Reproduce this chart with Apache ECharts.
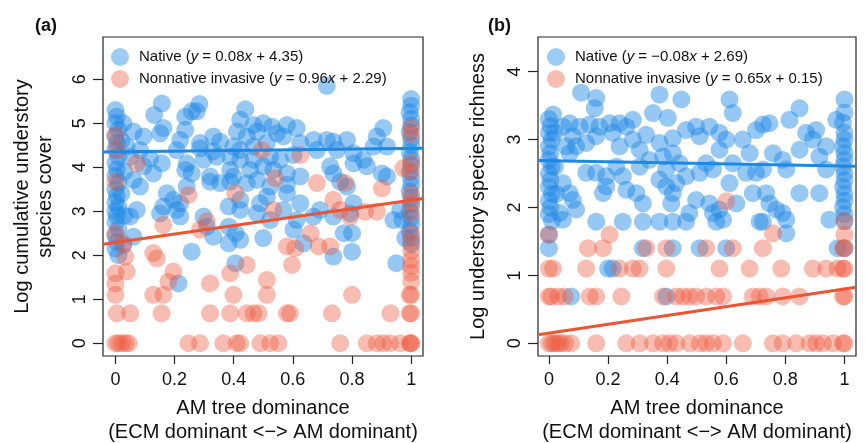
<!DOCTYPE html>
<html>
<head>
<meta charset="utf-8">
<script src="https://cdn.jsdelivr.net/npm/echarts@6/dist/echarts.min.js"></script>
<style>
html,body{margin:0;padding:0;background:#fff;}
#chart{width:866px;height:443px;}
</style>
</head>
<body>
<div id="chart"></div>
<script>
// ---------- DATA ----------
const xTicks = [0, 0.2, 0.4, 0.6, 0.8, 1];
const yTicksA = [0, 1, 2, 3, 4, 5, 6];
const yTicksB = [0, 1, 2, 3, 4];

// regression coefficients [slope, intercept]
const fitA_native = [0.08, 4.35];
const fitA_nonnative = [0.96, 2.29];
const fitB_native = [-0.08, 2.69];
const fitB_nonnative = [0.65, 0.15];

// Panel (a): log cumulative understory species cover
const aNative = [
  [0,5.3],[0.005,5.15],[0,5.0],[0.01,4.85],[0,4.7],[0.005,4.55],[0,4.4],[0.01,4.25],[0,4.1],[0.005,3.95],
  [0,3.8],[0.01,3.65],[0,3.5],[0.005,3.35],[0,3.2],[0.01,3.1],[0,3.0],[0.005,2.9],[0,2.75],[0.01,2.6],
  [0,2.45],[0.005,2.3],[0,2.15],[0.01,2.0],[0.02,4.6],[0.02,3.4],[0.03,3.9],[0.03,2.9],
  [0.027,5.0],[0.038,4.47],[0.05,4.24],[0.061,4.81],[0.095,4.7],[0.083,4.39],[0.027,2.23],[0.061,2.42],
  [0.05,2.88],[0.072,3.03],[0.061,3.71],[0.083,3.56],[0.095,4.02],[0.117,4.2],[0.128,3.86],
  [0.715,5.85],[0.284,5.44],[0.157,5.45],[0.258,5.27],[0.439,5.32],[0.131,5.19],[0.236,5.15],[0.275,5.27],
  [0.422,5.08],[0.906,4.89],[0.162,4.89],[0.151,4.77],[0.236,4.85],[0.467,4.96],[0.5,5.0],[0.529,4.92],
  [0.58,4.96],[0.613,4.89],[0.546,4.77],[0.568,4.7],[0.479,4.81],[0.411,4.81],[0.444,4.7],[0.331,4.7],
  [0.354,4.58],[0.286,4.55],[0.219,4.62],[0.67,4.62],[0.715,4.62],[0.737,4.58],[0.783,4.62],[0.884,4.7],
  [0.873,4.47],[0.918,4.47],[0.207,4.39],[0.286,4.43],[0.331,4.36],[0.399,4.47],[0.422,4.39],[0.467,4.47],
  [0.512,4.55],[0.625,4.55],[0.681,4.39],[0.749,4.39],[0.805,4.32],[0.157,4.09],[0.241,4.09],[0.298,4.17],
  [0.343,4.24],[0.388,4.24],[0.422,4.17],[0.467,4.17],[0.523,4.24],[0.557,4.17],[0.602,4.28],[0.839,4.17],
  [0.85,4.02],[0.805,4.09],[0.726,4.02],[0.737,3.86],[0.901,3.86],[0.918,3.79],[0.236,3.94],[0.258,3.86],
  [0.32,3.79],[0.388,3.94],[0.399,3.79],[0.456,3.94],[0.5,4.02],[0.534,3.94],[0.58,3.86],[0.625,3.79],
  [0.32,3.67],[0.354,3.64],[0.388,3.67],[0.444,3.64],[0.479,3.71],[0.523,3.56],[0.58,3.6],[0.76,3.67],
  [0.783,3.56],[0.241,3.56],[0.174,3.41],[0.196,3.26],[0.219,3.18],[0.162,3.11],[0.207,3.03],[0.151,2.95],
  [0.219,2.88],[0.298,2.88],[0.422,3.26],[0.383,3.11],[0.422,3.03],[0.489,3.18],[0.512,3.33],[0.58,3.41],
  [0.625,3.18],[0.568,3.03],[0.479,2.95],[0.523,2.8],[0.613,2.8],[0.67,2.88],[0.692,3.03],[0.737,2.88],
  [0.794,2.95],[0.805,3.18],[0.94,2.8],[0.963,3.03],[0.309,2.65],[0.383,2.65],[0.406,2.5],[0.331,2.42],
  [0.383,2.27],[0.422,2.35],[0.5,2.39],[0.602,2.58],[0.636,2.27],[0.772,2.5],[0.8,2.5],[0.737,1.97],
  [0.8,2.08],[0.258,2.08],[0.406,1.82],[0.213,1.36],[0.95,1.82],[0.98,2.39],[0.97,2.8],
  [1,5.55],[1,5.4],[0.995,5.25],[1,5.1],[1,4.95],[0.995,4.8],[1,4.65],[1,4.5],[0.995,4.35],[1,4.2],
  [1,4.05],[0.995,3.9],[1,3.75],[1,3.6],[0.995,3.45],[1,3.3],[1,3.15],[0.995,3.0],[1,2.85],[1,2.7],
  [0.995,2.55],[1,2.4],[1,2.25]
];
const aNonnative = [
  [0,4.73],[0.005,4.39],[0,3.67],[0,2.5],[0.027,2.27],[0.033,1.97],[0.038,1.63],[0,1.59],[0,1.36],[0,1.1],
  [0.005,0.68],[0.05,0.68],[0,0],[0.01,0],[0.022,0],[0.035,0],[0.045,0],
  [0.072,4.09],[0.162,2.69],[0.128,2.05],[0.14,1.93],[0.196,1.63],[0.179,1.4],[0.128,1.1],[0.162,1.1],
  [0.156,0.68],[0.247,3.37],[0.286,2.58],[0.309,2.77],[0.32,1.36],[0.32,0.68],[0.247,0],[0.286,0],
  [0.405,3.41],[0.388,1.59],[0.444,1.78],[0.399,1.1],[0.388,0.68],[0.444,0.68],[0.467,0.68],[0.484,0.68],
  [0.365,0],[0.41,0],[0.422,0],[0.495,4.39],[0.54,3.75],[0.534,3.03],[0.512,1.44],[0.512,1.1],
  [0.49,0],[0.523,0],[0.551,0],[0.58,0.68],[0.59,0.68],[0.58,2.2],[0.608,2.16],[0.597,1.78],
  [0.625,4.28],[0.66,2.5],[0.681,3.64],[0.687,2.2],[0.726,2.2],[0.732,0.68],[0.737,3.26],[0.76,3.03],
  [0.777,3.64],[0.794,2.88],[0.8,1.1],[0.76,0],[0.844,2.99],[0.884,2.99],[0.901,3.52],
  [0.85,0],[0.884,0],[0.906,0],[0.929,0],[0.963,0],[0.93,0.68],[0.974,3.98],
  [1,4.9],[1,4.75],[1,4.1],[1,3.9],[1,3.4],[1,3.2],[1,2.95],[1,2.5],[1,2.3],[1,2.1],[1,1.9],[1,1.75],
  [1,1.6],[1,1.4],[1,1.1],[0.995,1.1],[1,0.68],[0.995,0.68],[1,0],[0.995,0],[1,0]
];

// Panel (b): log understory species richness
const bNative = [
  [0,3.3],[0.005,3.2],[0,3.1],[0.01,3.0],[0,2.9],[0.005,2.8],[0,2.7],[0.01,2.6],[0,2.5],[0.005,2.4],
  [0,2.3],[0.01,2.2],[0,2.1],[0.005,2.0],[0,1.9],[0.01,1.8],[0,1.6],[0,1.4],[0.02,3.1],[0.02,2.6],[0.025,2.2],
  [0.014,3.37],[0.047,3.19],[0.07,3.24],[0.104,3.19],[0.081,3.05],[0.059,2.9],[0.092,2.9],[0.126,2.95],
  [0.138,3.22],[0.171,3.19],[0.16,3.05],[0.216,3.1],[0.239,3.24],[0.262,3.19],[0.284,3.29],[0.205,3.24],
  [0.329,3.07],[0.284,3.0],[0.239,2.9],[0.307,2.85],[0.374,2.95],[0.419,3.02],[0.464,3.14],[0.498,3.19],
  [0.51,3.05],[0.543,3.19],[0.577,3.1],[0.6,3.0],[0.656,3.0],[0.701,3.14],[0.724,3.22],[0.746,3.24],
  [0.87,3.1],[0.904,3.14],[0.893,3.0],[0.938,2.9],[0.848,2.85],[0.758,2.8],[0.679,2.8],[0.577,2.85],
  [0.07,2.8],[0.126,2.51],[0.16,2.51],[0.194,2.46],[0.228,2.6],[0.25,2.46],[0.307,2.6],[0.34,2.7],
  [0.386,2.75],[0.419,2.8],[0.442,2.65],[0.397,2.56],[0.374,2.41],[0.464,2.46],[0.51,2.51],[0.532,2.65],
  [0.555,2.56],[0.622,2.65],[0.611,2.36],[0.667,2.51],[0.701,2.51],[0.724,2.56],[0.791,2.7],[0.803,2.56],
  [0.938,2.56],[0.915,2.75],[0.07,2.21],[0.047,2.36],[0.081,2.11],[0.092,1.97],[0.036,1.92],[0.047,1.82],
  [0.183,2.21],[0.194,2.31],[0.262,2.26],[0.296,2.21],[0.318,2.06],[0.397,2.31],[0.431,2.36],[0.419,2.21],
  [0.498,2.11],[0.475,1.92],[0.543,2.06],[0.555,1.92],[0.577,1.97],[0.589,1.82],[0.634,2.06],[0.69,2.21],
  [0.735,2.21],[0.746,2.06],[0.769,1.97],[0.791,1.92],[0.803,1.82],[0.803,1.62],[0.848,2.21],[0.915,2.21],
  [0.949,1.82],[0.16,1.79],[0.25,1.79],[0.318,1.79],[0.374,1.79],[0.419,1.79],[0.464,1.79],[0.566,1.79],
  [0.713,1.79],[0.724,1.79],[0.414,2.06],[0.109,3.69],[0.16,3.61],[0.155,3.46],[0.374,3.66],[0.448,3.59],
  [0.352,3.39],[0.402,3.32],[0.611,3.59],[0.622,3.39],[0.848,3.46],[0.814,3.29],[0.972,3.29],
  [0.419,1.4],[0.51,1.4],[0.6,1.4],[0.318,1.4],[0.2,1.1],[0.216,1.1],[0.075,0.69],[0.397,0.69],[0.977,1.4],
  [1,3.59],[1,3.4],[0.995,3.25],[1,3.1],[1,3.0],[0.995,2.9],[1,2.8],[1,2.7],[0.995,2.6],[1,2.5],
  [1,2.4],[0.995,2.3],[1,2.2],[1,2.1],[0.995,2.0],[1,1.9],[1,1.8],[1,1.4]
];
const bNonnative = [
  [0,1.6],[0,1.1],[0.014,1.1],[0,0.69],[0.008,0.69],[0.031,0.69],[0.053,0.69],
  [0,0],[0.01,0],[0.02,0],[0.03,0],[0.04,0],[0.055,0],
  [0.205,1.6],[0.132,1.4],[0.183,1.4],[0.126,1.1],[0.239,1.1],[0.284,1.1],[0.307,1.1],[0.329,1.4],
  [0.397,1.4],[0.397,1.1],[0.532,1.4],[0.622,1.4],[0.6,2.09],[0.577,1.1],[0.679,1.1],[0.758,1.62],
  [0.724,1.4],[0.786,1.1],[0.893,1.1],[0.938,1.1],[0.977,1.1],
  [0.138,0.69],[0.16,0.69],[0.245,0.69],[0.386,0.69],[0.431,0.69],[0.453,0.69],[0.476,0.69],[0.498,0.69],
  [0.532,0.69],[0.566,0.69],[0.589,0.69],[0.69,0.69],[0.713,0.69],[0.735,0.69],[0.791,0.69],[0.848,0.69],
  [0.075,0],[0.16,0],[0.262,0],[0.307,0],[0.352,0],[0.386,0],[0.408,0],[0.431,0],[0.476,0],[0.51,0],
  [0.532,0],[0.555,0],[0.589,0],[0.656,0],[0.758,0],[0.791,0],[0.837,0],[0.882,0],[0.904,0],[0.927,0],[0.961,0],
  [1,1.8],[1,1.6],[1,1.4],[0.995,1.4],[1,1.1],[0.995,1.1],[1,0.69],[0.995,0.69],[1,0],[0.995,0]
];

// ---------- CHART ----------
const FONT = "'Liberation Sans', Arial, sans-serif";
const BLUE_PT = 'rgba(30,136,229,0.58)';
const RED_PT = 'rgba(238,90,62,0.5)';
const BLUE_LN = '#1E88E5';
const RED_LN = '#EC5434';
const xRangeA = [-0.042, 1.04];
const xRangeB = [-0.037, 1.039];

function fmtNum(v){ const s = v.toFixed(2); return v < 0 ? '\u2212' + s.slice(1) : s; }
function eqText(label, fit){
  return '{s|}{n|' + label + ' (}{i|y}{n| = ' + fmtNum(fit[0]) + '}{i|x}{n| + ' + fmtNum(fit[1]) + ')}';
}
function fitLine(fit, range){
  return range.map(x => [x, fit[0]*x + fit[1]]);
}

const chart = echarts.init(document.getElementById('chart'), null, {renderer:'canvas'});

function xAxisCfg(idx, range){
  return {
    type:'value', gridIndex: idx, min: range[0], max: range[1],
    name: 'AM tree dominance\n(ECM dominant <\u2212> AM dominant)',
    nameLocation:'middle', nameGap: 40, nameMoveOverlap:false,
    nameTextStyle:{fontFamily:FONT, fontSize:20, color:'#111', lineHeight:24},
    axisLine:{show:false, onZero:false}, splitLine:{show:false},
    axisTick:{show:true, inside:false, length:8, lineStyle:{color:'#222', width:1.2}, customValues: xTicks},
    axisLabel:{fontFamily:FONT, fontSize:18, color:'#111', margin:15, customValues: xTicks,
      formatter: v => String(+v.toFixed(1))}
  };
}
function yAxisCfg(idx, ticks, min, max, name, gap){
  return {
    type:'value', gridIndex: idx, min: min, max: max,
    name: name, nameLocation:'middle', nameGap: gap, nameRotate: 90, nameMoveOverlap:false,
    nameTextStyle:{fontFamily:FONT, fontSize:20, color:'#111', lineHeight:23},
    axisLine:{show:false, onZero:false}, splitLine:{show:false},
    axisTick:{show:true, inside:false, length:10, lineStyle:{color:'#222', width:1.2}, customValues: ticks},
    axisLabel:{fontFamily:FONT, fontSize:18, color:'#111', margin:14, rotate:90, customValues: ticks}
  };
}

const rich = {
  s:{width:5},
  n:{fontFamily:FONT, fontSize:15, color:'#111'},
  i:{fontFamily:FONT, fontSize:15, color:'#111', fontStyle:'italic'}
};

function scatter(name, idx, data, color){
  return {name:name, type:'scatter', xAxisIndex:idx, yAxisIndex:idx, data:data,
    symbolSize:18, itemStyle:{color:color}, emphasis:{disabled:true}, silent:true};
}
function line(name, idx, data, color){
  return {name:name, type:'line', xAxisIndex:idx, yAxisIndex:idx, data:data, symbol:'none',
    lineStyle:{color:color, width:3}, silent:true, z:5};
}

const option = {
  animation:false,
  backgroundColor:'#fff',
  grid:[
    {left:103, top:37, width:320, height:319, show:true, borderColor:'#222', borderWidth:1.2,
      backgroundColor:'transparent', containLabel:false, outerBoundsMode:'none'},
    {left:538, top:37, width:318, height:319, show:true, borderColor:'#222', borderWidth:1.2,
      backgroundColor:'transparent', containLabel:false, outerBoundsMode:'none'}
  ],
  xAxis:[ xAxisCfg(0, xRangeA), xAxisCfg(1, xRangeB) ],
  yAxis:[
    yAxisCfg(0, yTicksA, -0.29, 6.96, 'Log cumulative understory\nspecies cover', 46),
    yAxisCfg(1, yTicksB, -0.187, 4.51, 'Log understory species richness', 48)
  ],
  legend:[
    {left:106, top:43, orient:'vertical', itemWidth:18, itemHeight:18, itemGap:4, icon:'circle',
      data:[{name:'aN', itemStyle:{color:'rgba(30,136,229,0.55)'}},{name:'aI', itemStyle:{color:'rgba(238,90,62,0.5)'}}],
      formatter: n => n === 'aN' ? eqText('Native', fitA_native) : eqText('Nonnative invasive', fitA_nonnative),
      textStyle:{rich:rich}, selectedMode:false},
    {left:542, top:43, orient:'vertical', itemWidth:18, itemHeight:18, itemGap:4, icon:'circle',
      data:[{name:'bN', itemStyle:{color:'rgba(30,136,229,0.55)'}},{name:'bI', itemStyle:{color:'rgba(238,90,62,0.5)'}}],
      formatter: n => n === 'bN' ? eqText('Native', fitB_native) : eqText('Nonnative invasive', fitB_nonnative),
      textStyle:{rich:rich}, selectedMode:false}
  ],
  graphic:[
    {type:'text', left:35, top:17, style:{text:'(a)', font:'bold 18px ' + FONT, fill:'#111'}},
    {type:'text', left:488, top:17, style:{text:'(b)', font:'bold 18px ' + FONT, fill:'#111'}}
  ],
  series:[
    scatter('aN', 0, aNative, BLUE_PT),
    scatter('aI', 0, aNonnative, RED_PT),
    line('aN', 0, fitLine(fitA_native, xRangeA), BLUE_LN),
    line('aI', 0, fitLine(fitA_nonnative, xRangeA), RED_LN),
    scatter('bN', 1, bNative, BLUE_PT),
    scatter('bI', 1, bNonnative, RED_PT),
    line('bN', 1, fitLine(fitB_native, xRangeB), BLUE_LN),
    line('bI', 1, fitLine(fitB_nonnative, xRangeB), RED_LN)
  ]
};
chart.setOption(option);
</script>
</body>
</html>
